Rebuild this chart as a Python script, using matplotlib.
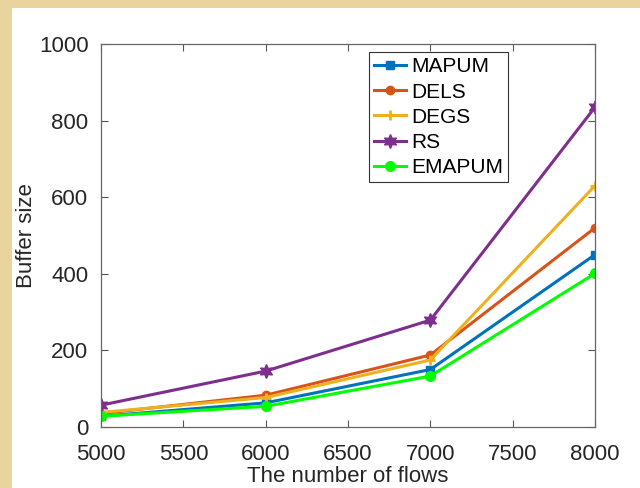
import matplotlib.pyplot as plt
from matplotlib.patches import Rectangle

# donnees
flows = [5000, 6000, 7000, 8000]
mapum = [28, 63, 150, 450]
dels = [35, 83, 188, 520]
degs = [38, 77, 175, 630]
rs = [57, 146, 279, 835]
emapum = [28, 54, 133, 401]

plt.rcParams['font.family'] = ['Liberation Sans', 'DejaVu Sans']

fig = plt.figure(figsize=(6.4, 4.88), dpi=100)
fig.patch.set_facecolor('#e9d49e')
# cadre blanc de la figure (le fond texturé ne reste qu'a gauche et en haut)
fig.add_artist(Rectangle((12/640, 0), 1, 480/488, transform=fig.transFigure,
                         facecolor='white', edgecolor='none', zorder=-5))

ax = fig.add_axes([101/640, 61/488, 494/640, 383/488])
ax.set_facecolor('white')

ax.plot(flows, mapum, color='#0072BD', lw=2.2, marker='s', ms=6, label='MAPUM')
ax.plot(flows, dels, color='#D95319', lw=2.2, marker='o', ms=6, label='DELS')
ax.plot(flows, degs, color='#EDB120', lw=2.2, marker='+', ms=7, mew=2, label='DEGS')
ax.plot(flows, rs, color='#7E2F8E', lw=2.2, marker=(6, 1, 0), ms=10, label='RS')
ax.plot(flows, emapum, color='#00FF00', lw=2.2, marker='o', ms=7, label='EMAPUM')

ax.set_xlim(5000, 8000)
ax.set_ylim(0, 1000)
ax.set_xticks([5000, 5500, 6000, 6500, 7000, 7500, 8000])
ax.set_yticks([0, 200, 400, 600, 800, 1000])

ax.tick_params(direction='in', length=5, width=0.8, top=True, right=True,
               labelsize=16, colors='#555555', labelcolor='#262626')
ax.tick_params(axis='x', pad=12)
ax.tick_params(axis='y', pad=9)
for s in ax.spines.values():
    s.set_color('#666666')
    s.set_linewidth(0.9)

ax.set_xlabel('The number of flows', fontsize=16, color='#262626', labelpad=1)
ax.set_ylabel('Buffer size', fontsize=16, color='#262626', labelpad=1)

leg = ax.legend(loc='upper right', bbox_to_anchor=(0.824, 0.979), borderaxespad=0,
                fontsize=15, handlelength=1.5, handletextpad=0.25, labelspacing=0.3,
                borderpad=0.25, fancybox=False, framealpha=1)
leg.get_frame().set_edgecolor('#333333')
leg.get_frame().set_linewidth(0.8)

fig.savefig('out.png', dpi=100, facecolor=fig.get_facecolor())
